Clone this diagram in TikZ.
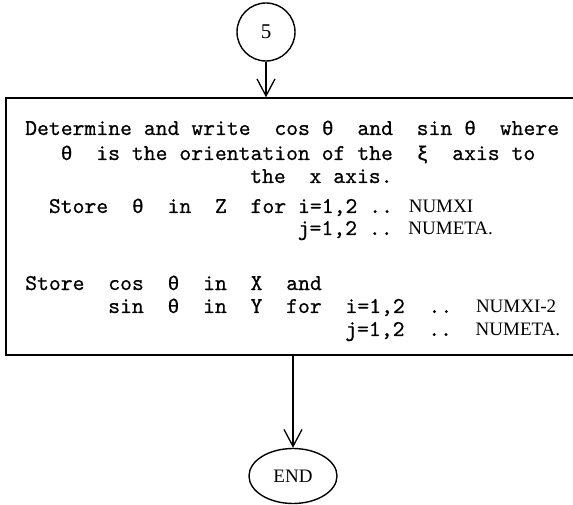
\documentclass[tikz,border=0pt]{standalone}
\usepackage{fontspec}
\usetikzlibrary{arrows.meta, positioning, shapes.geometric}

\newfontfamily\tw{lmmono10-regular}[Extension=.otf, FakeBold=0.6]
\newfontfamily\grk[Scale=0.875, FakeBold=0.6]{Liberation Mono}
\newfontfamily\caps{Liberation Serif}
\newcommand\tht{{\grk θ}}
\newcommand\xii{{\grk ξ}}
\newcommand\nm[1]{{\fontsize{19}{21}\caps #1}}

\tikzset{
  txt/.style={anchor=base west, inner sep=0pt, font=\fontsize{22.6}{24}\tw},
  conn/.style={circle, draw, line width=1.4pt, minimum size=58pt, inner sep=0pt, font=\fontsize{21}{23}\caps},
  term/.style={ellipse, draw, line width=1.4pt, minimum width=88pt, minimum height=55pt, inner sep=0pt, font=\fontsize{19}{21}\caps},
  procbox/.style={rectangle, draw, line width=1.4pt, minimum width=594pt, minimum height=257pt, inner sep=0pt},
  flow/.style={line width=1.3pt, -{Straight Barb[length=17pt, width=18pt, line width=1.3pt]}}
}

\begin{document}
\begin{tikzpicture}[x=1pt, y=1pt]
  \path[use as bounding box, clip] (0,0) rectangle (573,504);

  \node[conn] (c5) at (266,472) {5};
  \node[procbox] (box) at (303,277.5) {};
  \node[term] (end) at (293,28) {END};

  % text of the box
  \node[txt] (l1) at (25,369) {Determine and write~~cos \tht~~and~~sin \tht~~where};
  \node[txt] (l2) at (60.5,344) {\tht~~is the orientation of the~~\xii~~axis to};
  \node[txt] (l3) at (250,321) {the~~x axis.};
  \node[txt] (l4) at (48.7,291) {Store~~\tht~~in~~Z~~for i=1,2 .. \nm{NUMXI}};
  \node[txt] (l5) at (297.5,269) {j=1,2 .. \nm{NUMETA.}};
  \node[txt] (l6) at (25,214) {Store~~cos~~\tht~~in~~X~~and};
  \node[txt] (l7) at (108,191) {sin~~\tht~~in~~Y~~for~~i=1,2~~..~~\nm{NUMXI-2}};
  \node[txt] (l8) at (345,168) {j=1,2~~..~~\nm{NUMETA.}};

  \draw[flow] (c5.south) -- (c5.south |- box.north);
  \draw[flow] (end.north |- box.south) -- (end.north);
\end{tikzpicture}
\end{document}
